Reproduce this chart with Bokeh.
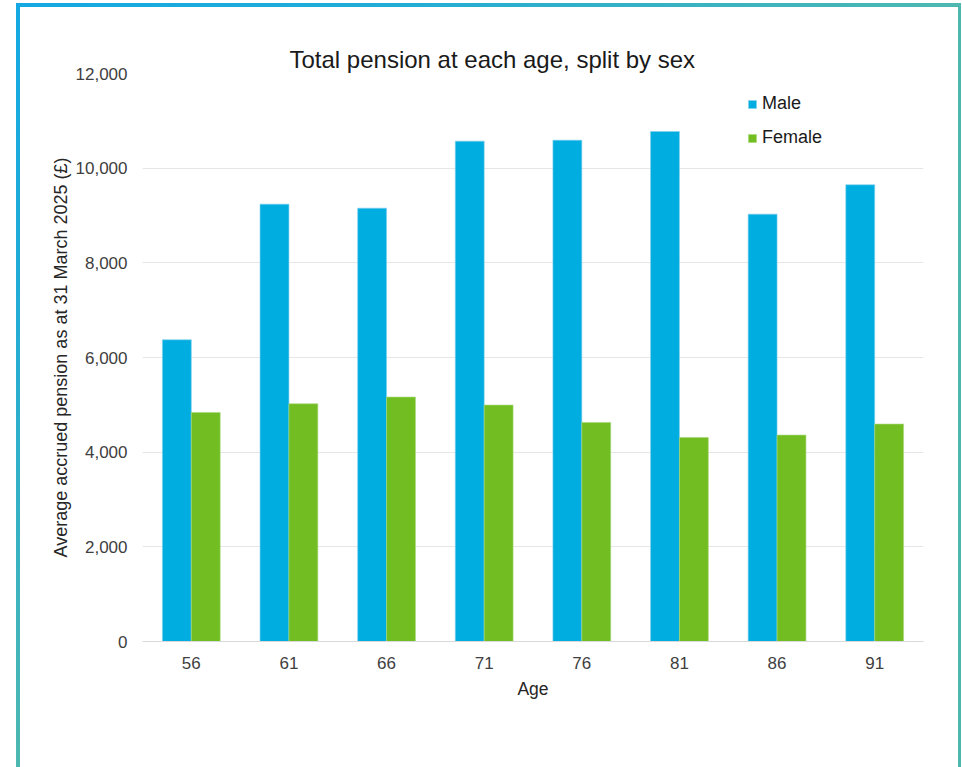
from bokeh.plotting import figure
from bokeh.models import FactorRange, Range1d, FixedTicker, NumeralTickFormatter, Legend, LegendItem, ColumnDataSource
from bokeh.transform import dodge
from bokeh.embed import file_html
from bokeh.resources import INLINE

ages = ["56", "61", "66", "71", "76", "81", "86", "91"]
male = [6374, 9240, 9155, 10571, 10592, 10774, 9029, 9648]
female = [4839, 5022, 5164, 4995, 4628, 4311, 4361, 4594]
y_ticks = [0, 2000, 4000, 6000, 8000, 10000, 12000]

MALE_C = "#00ADE0"
FEMALE_C = "#72BE22"
FONT = "Liberation Sans"

src = ColumnDataSource(dict(age=ages, male=male, female=female))

p = figure(
    x_range=FactorRange(factors=ages),
    y_range=Range1d(0, 12000),
    width=938, height=760,
    frame_width=781, frame_height=568,
    min_border_left=122, min_border_top=66, min_border_right=35, min_border_bottom=126,
    output_backend="svg", toolbar_location=None,
    title="Total pension at each age, split by sex",
)
p.styles = {
    "border-style": "solid",
    "border-width": "4px 3px 0px 4px",
    "border-image": "linear-gradient(to bottom right, #14A9E3 0%, #22ACD6 20%, #4DB8B0 50%, #4DB8B0 100%) 1",
    "transform": "translate(16px, 3px)",
}

r1 = p.vbar(x=dodge("age", -0.148, range=p.x_range), top="male", width=0.296, source=src,
            fill_color=MALE_C, line_color="#7fd0ec", line_width=0.6)
r2 = p.vbar(x=dodge("age", 0.148, range=p.x_range), top="female", width=0.296, source=src,
            fill_color=FEMALE_C, line_color="#a8d87a", line_width=0.6)

p.title.align = "left"
p.title.offset = 147
p.title.text_font = FONT
p.title.text_font_size = "24px"
p.title.text_font_style = "normal"
p.title.text_color = "#1a1a1a"
p.title.standoff = 1

p.outline_line_color = None
p.background_fill_color = "white"
p.border_fill_color = "white"

p.yaxis.ticker = FixedTicker(ticks=y_ticks)
p.yaxis.formatter = NumeralTickFormatter(format="0,0")
p.yaxis.axis_line_color = None
p.yaxis.major_tick_line_color = None
p.yaxis.minor_tick_line_color = None
p.yaxis.major_label_standoff = 9
p.yaxis.major_label_text_font = FONT
p.yaxis.major_label_text_font_size = "17px"
p.yaxis.major_label_text_color = "#404040"
p.yaxis.axis_label = "Average accrued pension as at 31 March 2025 (£)"
p.yaxis.axis_label_text_font = FONT
p.yaxis.axis_label_text_font_size = "18px"
p.yaxis.axis_label_text_font_style = "normal"
p.yaxis.axis_label_text_color = "#262626"
p.yaxis.axis_label_standoff = 2

p.xaxis.axis_line_color = "#d9d9d9"
p.xaxis.major_tick_line_color = None
p.xaxis.minor_tick_line_color = None
p.xaxis.major_label_standoff = 9
p.xaxis.major_label_text_font = FONT
p.xaxis.major_label_text_font_size = "17px"
p.xaxis.major_label_text_color = "#404040"
p.xaxis.axis_label = "Age"
p.xaxis.axis_label_text_font = FONT
p.xaxis.axis_label_text_font_size = "17.5px"
p.xaxis.axis_label_text_font_style = "normal"
p.xaxis.axis_label_text_color = "#262626"
p.xaxis.axis_label_standoff = 7

p.xgrid.grid_line_color = None
p.ygrid.grid_line_color = "#e6e6e6"
p.ygrid.grid_line_width = 1

legend = Legend(items=[LegendItem(label="Male", renderers=[r1]),
                       LegendItem(label="Female", renderers=[r2])],
                location=(605, 493))
legend.border_line_color = None
legend.background_fill_alpha = 0
legend.padding = 0
legend.margin = 0
legend.glyph_width = 10
legend.glyph_height = 10
legend.label_height = 20
legend.spacing = 13
legend.label_standoff = 5
legend.label_text_font = FONT
legend.label_text_font_size = "18px"
legend.label_text_color = "#1a1a1a"
p.add_layout(legend)

open("out.html", "w").write(file_html(p, INLINE))
